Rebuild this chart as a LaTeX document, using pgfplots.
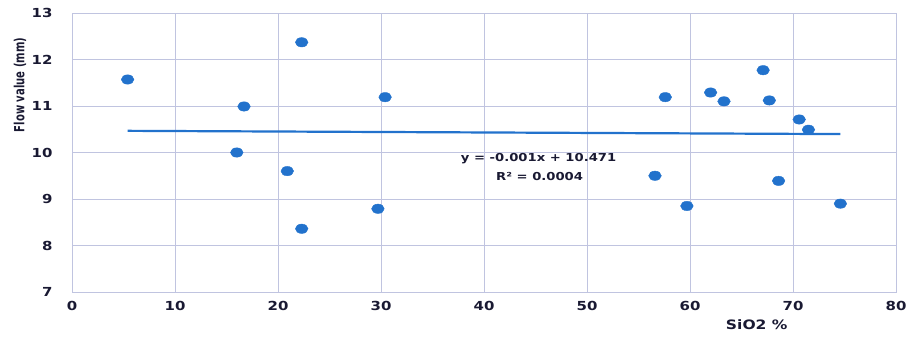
\documentclass[border=0pt]{standalone}
\usepackage{pgfplots}
\pgfplotsset{compat=1.18}
\usepackage{fontspec}
\setmainfont{DejaVu Sans}[FakeStretch=1.2]
\newfontfamily\ylabfont{DejaVu Sans}[FakeStretch=0.72]
\definecolor{gridc}{RGB}{192,196,224}
\definecolor{dotc}{RGB}{34,114,204}
\definecolor{txtc}{RGB}{25,25,50}
\begin{document}
\begin{tikzpicture}
\path[use as bounding box] (0,0) rectangle (918bp,337bp);
\begin{axis}[
  at={(72bp,45bp)}, anchor=south west,
  scale only axis, width=824bp, height=279bp,
  xmin=0, xmax=80, ymin=7, ymax=13,
  xtick={0,10,...,80}, ytick={7,8,...,13},
  grid=major, major grid style={draw=gridc, line width=0.8pt},
  axis line style={draw=gridc, line width=0.8pt},
  major tick length=0pt,
  /pgf/number format/assume math mode=true,
  tick label style={font=\fontsize{12.5}{13}\selectfont\bfseries, text=txtc},
  xticklabel style={yshift=-6bp},
  yticklabel style={xshift=-16bp},
  xlabel={SiO2 \%},
  xlabel style={at={(axis description cs:0.831,0)}, anchor=north, yshift=-24bp, font=\fontsize{13}{15}\selectfont\bfseries, text=txtc},
  ylabel={Flow value (mm)},
  ylabel style={at={(axis description cs:0,0.742)}, anchor=center, yshift=52bp, font=\ylabfont\fontsize{14}{16}\selectfont\bfseries, text=txtc},
]
\addplot[only marks, mark=*, mark size=4.7bp, mark options={xscale=1.35, fill=dotc, draw=dotc}] coordinates {
(5.4,11.57) (16.7,10.99) (16.0,10.00) (20.9,9.60) (22.3,12.37) (22.3,8.36)
(29.7,8.79) (30.4,11.19) (56.6,9.50) (57.6,11.19) (59.7,8.85) (62.0,11.29)
(63.3,11.10) (67.1,11.77) (67.7,11.12) (68.6,9.39) (70.6,10.71) (71.5,10.49)
(74.6,8.90)
};
\addplot[dotc, line width=2.2bp] coordinates {(5.4,10.466) (74.6,10.396)};
\node[font=\fontsize{11}{12}\selectfont\bfseries, text=txtc] at (axis cs:45.3,9.86) {y = -0.001x + 10.471};
\node[font=\fontsize{11}{12}\selectfont\bfseries, text=txtc] at (axis cs:45.4,9.49) {R² = 0.0004};
\end{axis}
\end{tikzpicture}
\end{document}
